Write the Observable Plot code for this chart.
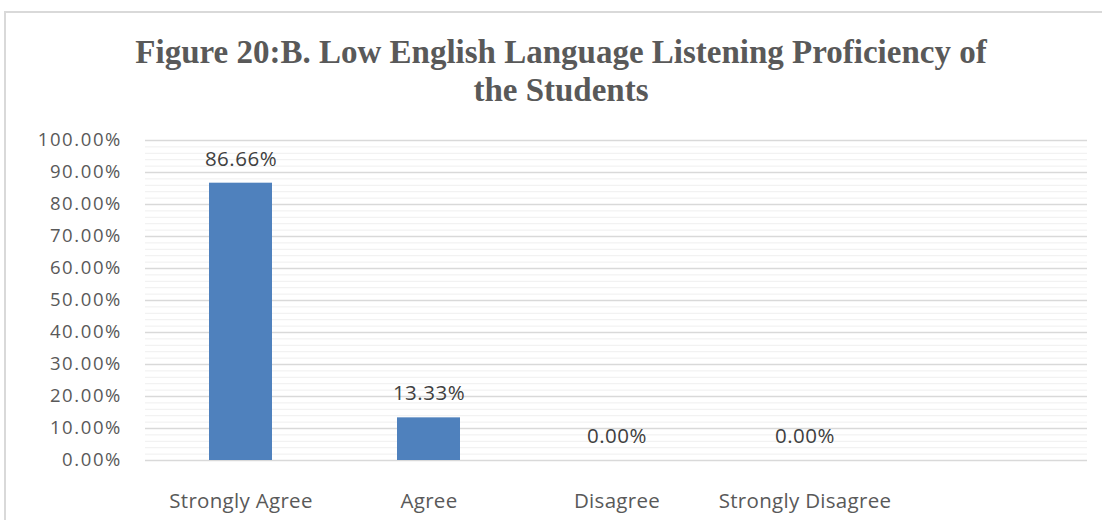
<!DOCTYPE html>
<html>
<head>
<meta charset="utf-8">
<script src="https://cdn.jsdelivr.net/npm/d3@7"></script>
<script src="https://cdn.jsdelivr.net/npm/@observablehq/plot@0.6"></script>
<style>
  html, body { margin: 0; padding: 0; background: #fff; width: 1102px; height: 520px; overflow: hidden; }
  #frame { position: absolute; left: 4px; top: 11px; width: 1200px; height: 700px;
           border-left: 2px solid #d9d9d9; border-top: 2px solid #d9d9d9; }
  #title { position: absolute; left: 0; top: 0; width: 1122px; height: 110px; text-align: center;
           font-family: "Liberation Serif", serif; font-weight: bold; font-size: 33px; line-height: 38px;
           color: #595959; padding-top: 33px; box-sizing: border-box; }
  #chart { position: absolute; left: 0; top: 110px; }
  g[aria-label="y-axis tick label"] text { letter-spacing: 1.6px; }
  g[aria-label="x-axis tick label"] text { letter-spacing: 0.3px; }
  g[aria-label="text"] text { letter-spacing: 0.5px; }
</style>
</head>
<body>
<div id="frame"></div>
<div id="title">Figure 20:B. Low English Language Listening Proficiency of<br>the Students</div>
<div id="chart"></div>
<script>
const categories = ["Strongly Agree", "Agree", "Disagree", "Strongly Disagree"];
const values = [0.8666, 0.1333, 0.0, 0.0];
const valueLabels = ["86.66%", "13.33%", "0.00%", "0.00%"];
const yTicks = [0, 0.1, 0.2, 0.3, 0.4, 0.5, 0.6, 0.7, 0.8, 0.9, 1.0];
const yTickLabels = ["0.00%", "10.00%", "20.00%", "30.00%", "40.00%", "50.00%", "60.00%", "70.00%", "80.00%", "90.00%", "100.00%"];

const data = categories.map((c, i) => ({category: c, value: values[i], label: valueLabels[i]}));
const xDomain = [...categories, " "];
const minorTicks = d3.range(0, 1.0001, 0.02);

const chart = Plot.plot({
  width: 1102,
  height: 410,
  marginLeft: 145,
  marginRight: 15,
  marginTop: 30,
  marginBottom: 60,
  style: { fontFamily: "'Open Sans', sans-serif", color: "#595959", background: "transparent" },
  x: { domain: xDomain, paddingInner: 0.667, paddingOuter: 0.333, align: 0.5, label: null },
  y: { domain: [0, 1], label: null },
  marks: [
    Plot.ruleY(minorTicks, { stroke: "#efefef", strokeWidth: 1 }),
    Plot.ruleY(yTicks, { stroke: "#d9d9d9", strokeWidth: 1.3 }),
    Plot.barY(data, { x: "category", y: "value", fill: "#4f81bd" }),
    Plot.text(data, { x: "category", y: "value", text: "label", dy: -24, fontSize: 20.5, fill: "#404040" }),
    Plot.axisY({ ticks: yTicks, tickFormat: (d, i) => yTickLabels[i], tickSize: 0, tickPadding: 23.5, fontSize: 18.5, fill: "#595959" }),
    Plot.axisX({ tickSize: 0, tickPadding: 33, fontSize: 20.5, fill: "#595959", tickFormat: d => d.trim() })
  ]
});
document.getElementById("chart").appendChild(chart);
</script>
</body>
</html>
